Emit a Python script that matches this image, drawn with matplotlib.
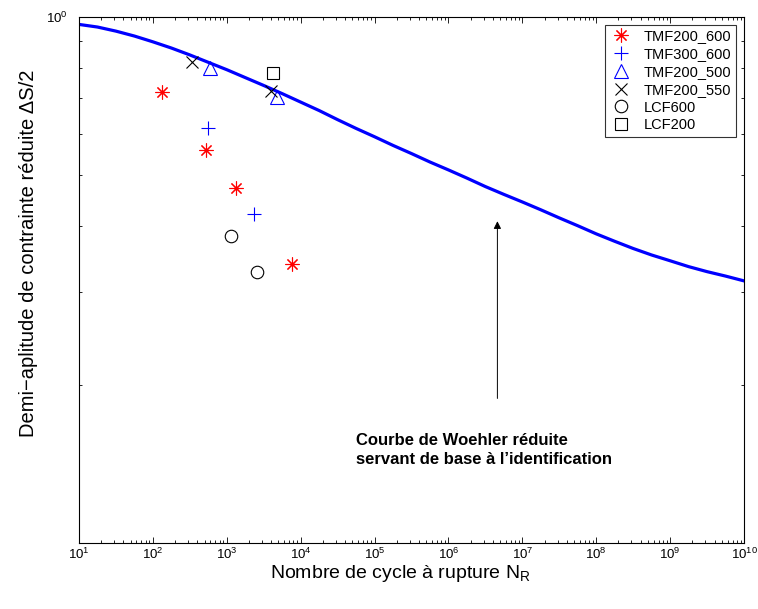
import matplotlib
matplotlib.use("Agg")
import matplotlib.pyplot as plt
from matplotlib.ticker import FixedLocator, NullFormatter, LogFormatterMathtext

plt.rcParams['font.family'] = ['Liberation Sans', 'DejaVu Sans']
plt.rcParams['mathtext.fontset'] = 'custom'
plt.rcParams['mathtext.rm'] = 'Liberation Sans'
plt.rcParams['mathtext.it'] = 'Liberation Sans'

woehler_n = [10**(1 + 0.25 * i) for i in range(37)]
woehler_s = [0.968, 0.957, 0.940, 0.920, 0.897, 0.873, 0.847, 0.820, 0.794, 0.767,
             0.741, 0.715, 0.689, 0.664, 0.638, 0.614, 0.592, 0.570, 0.550, 0.530,
             0.512, 0.494, 0.476, 0.460, 0.445, 0.430, 0.415, 0.401, 0.387, 0.3746,
             0.363, 0.3528, 0.344, 0.3353, 0.328, 0.3217, 0.315]

# test points (cycles to failure, reduced stress amplitude)
tmf200_600_n = [133, 524, 1330, 7620]
tmf200_600_s = [0.720, 0.559, 0.473, 0.339]
tmf300_600_n = [557, 2335]
tmf300_600_s = [0.615, 0.422]
tmf200_500_n = [593, 4730]
tmf200_500_s = [0.801, 0.706]
tmf200_550_n = [341, 3926]
tmf200_550_s = [0.820, 0.723]
lcf600_n = [1130, 2540]
lcf600_s = [0.3835, 0.327]
lcf200_n = [4180]
lcf200_s = [0.782]

fig = plt.figure(figsize=(7.58, 6.09), dpi=100)
ax = fig.add_axes([0.1042, 0.1084, 0.8773, 0.8637])

ax.plot(woehler_n, woehler_s, color=(0, 0, 1), lw=2.3)

mk = dict(ls='none', mew=0.8, fillstyle='none')
ax.plot(tmf200_600_n, tmf200_600_s, marker=(8, 2, 0), ms=10, color='red', label='TMF200_600', **mk)
ax.plot(tmf300_600_n, tmf300_600_s, marker='+', ms=10, color='blue', label='TMF300_600', **mk)
ax.plot(tmf200_500_n, tmf200_500_s, marker='^', ms=10, color='blue', label='TMF200_500', **mk)
ax.plot(tmf200_550_n, tmf200_550_s, marker='x', ms=9, color='black', label='TMF200_550', **mk)
ax.plot(lcf600_n, lcf600_s, marker='o', ms=9, color='black', label='LCF600', **mk)
ax.plot(lcf200_n, lcf200_s, marker='s', ms=8.5, color='black', label='LCF200', **mk)

ax.set_xscale('log')
ax.set_yscale('log')
ax.set_xlim(1e1, 1e10)
ax.set_ylim(0.1, 1.0)

ax.xaxis.set_major_locator(FixedLocator([10.0**k for k in range(1, 11)]))
ax.xaxis.set_major_formatter(LogFormatterMathtext())
ax.xaxis.set_minor_locator(FixedLocator([m * 10.0**k for k in range(1, 10) for m in range(2, 10)]))
ax.xaxis.set_minor_formatter(NullFormatter())
ax.yaxis.set_major_locator(FixedLocator([1.0]))
ax.yaxis.set_major_formatter(LogFormatterMathtext())
ax.yaxis.set_minor_locator(FixedLocator([0.2, 0.3, 0.4, 0.5, 0.6, 0.7, 0.8, 0.9]))
ax.yaxis.set_minor_formatter(NullFormatter())

ax.tick_params(which='both', direction='in', top=True, right=True, labelsize=9.5, width=0.6)
ax.tick_params(which='major', length=4.5)
ax.tick_params(which='minor', length=2.5)
ax.tick_params(axis='x', which='major', pad=3)
ax.tick_params(axis='y', which='major', pad=8)
for s in ax.spines.values():
    s.set_linewidth(0.8)

ax.set_xlabel('Nombre de cycle à rupture N$_\\mathrm{R}$', fontsize=14)
ax.set_ylabel('Demi\u2212aplitude de contrainte réduite \u0394S/2', fontsize=14.5)
ax.xaxis.set_label_coords(0.484, -0.038)
ax.yaxis.set_label_coords(-0.062, 0.551)

ax.annotate('', xy=(4.6e6, 0.414), xytext=(4.6e6, 0.186),
            arrowprops=dict(arrowstyle='-|>', color='black', lw=0.7, mutation_scale=11))
ax.text(0.4165, 0.177, 'Courbe de Woehler réduite\nservant de base à l\u2019identification',
        transform=ax.transAxes, ha='left', va='center', fontsize=12, fontweight='bold',
        linespacing=1.35)

leg = ax.legend(loc='upper right', fontsize=10.5, frameon=True, fancybox=False,
                borderaxespad=0.55, handlelength=1.6, handletextpad=0.8,
                labelspacing=0.26, borderpad=0.3)
leg.get_frame().set_edgecolor('black')
leg.get_frame().set_linewidth(0.8)

fig.savefig('out.png', dpi=100)
